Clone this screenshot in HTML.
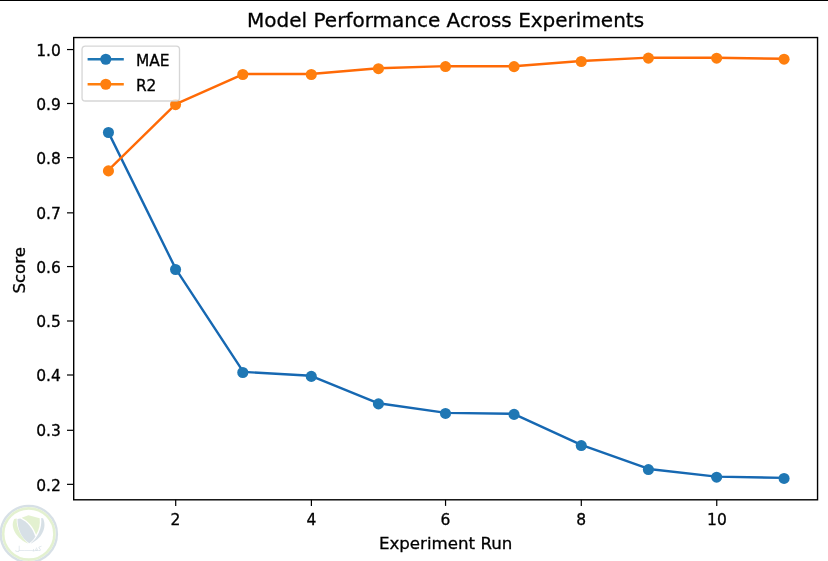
<!DOCTYPE html>
<html><head><meta charset="utf-8"><title>Model Performance Across Experiments</title>
<style>
html,body{margin:0;padding:0;background:#fff;}
body{width:828px;height:561px;overflow:hidden;position:relative;}
svg{position:absolute;left:0;top:0;display:block;will-change:transform;}
text{font-family:'DejaVu Sans','Liberation Sans',sans-serif;fill:#000;stroke:#000;stroke-width:0.3px;}
</style></head><body>
<svg width="828" height="561" viewBox="0 0 828 561">
<rect x="0" y="0" width="828" height="561" fill="#fff"/>
<rect x="0" y="0" width="828" height="1" fill="#000"/>
<g id="series">
<polyline points="108.17,131.90 175.75,268.90 243.32,371.90 310.90,375.80 378.47,403.30 446.05,412.85 513.62,413.80 581.20,444.95 648.77,468.95 716.35,476.60 783.92,477.85" fill="none" stroke="#1668b2" stroke-width="2.4" stroke-linejoin="round" stroke-linecap="butt"/>
<circle cx="108.45" cy="132.50" r="5.55" fill="#1f77b4"/>
<circle cx="175.55" cy="269.50" r="5.55" fill="#1f77b4"/>
<circle cx="242.80" cy="372.50" r="5.55" fill="#1f77b4"/>
<circle cx="311.30" cy="376.40" r="5.55" fill="#1f77b4"/>
<circle cx="378.45" cy="403.90" r="5.55" fill="#1f77b4"/>
<circle cx="445.50" cy="413.45" r="5.55" fill="#1f77b4"/>
<circle cx="514.05" cy="414.40" r="5.55" fill="#1f77b4"/>
<circle cx="581.25" cy="445.55" r="5.55" fill="#1f77b4"/>
<circle cx="648.40" cy="469.55" r="5.55" fill="#1f77b4"/>
<circle cx="716.65" cy="477.20" r="5.55" fill="#1f77b4"/>
<circle cx="784.05" cy="478.45" r="5.55" fill="#1f77b4"/>
<polyline points="108.17,170.45 175.75,104.15 243.32,74.05 310.90,74.05 378.47,68.25 446.05,66.10 513.62,66.20 581.20,61.05 648.77,57.65 716.35,57.75 783.92,58.75" fill="none" stroke="#ff6a06" stroke-width="2.4" stroke-linejoin="round" stroke-linecap="butt"/>
<circle cx="108.45" cy="170.90" r="5.55" fill="#ff7f0e"/>
<circle cx="175.55" cy="104.60" r="5.55" fill="#ff7f0e"/>
<circle cx="242.80" cy="74.50" r="5.55" fill="#ff7f0e"/>
<circle cx="311.30" cy="74.50" r="5.55" fill="#ff7f0e"/>
<circle cx="378.45" cy="68.70" r="5.55" fill="#ff7f0e"/>
<circle cx="445.50" cy="66.55" r="5.55" fill="#ff7f0e"/>
<circle cx="514.05" cy="66.65" r="5.55" fill="#ff7f0e"/>
<circle cx="581.25" cy="61.50" r="5.55" fill="#ff7f0e"/>
<circle cx="648.40" cy="58.10" r="5.55" fill="#ff7f0e"/>
<circle cx="716.65" cy="58.20" r="5.55" fill="#ff7f0e"/>
<circle cx="784.05" cy="59.20" r="5.55" fill="#ff7f0e"/>
</g>
<rect x="73.7" y="37.55" width="743.85" height="462.25" fill="none" stroke="#000" stroke-width="1.4"/>
<g stroke="#000" stroke-width="1.2">
<line x1="175.70" y1="499.8" x2="175.70" y2="505.90"/>
<line x1="311.40" y1="499.8" x2="311.40" y2="505.90"/>
<line x1="445.55" y1="499.8" x2="445.55" y2="505.90"/>
<line x1="581.30" y1="499.8" x2="581.30" y2="505.90"/>
<line x1="716.75" y1="499.8" x2="716.75" y2="505.90"/>
<line x1="73.7" y1="484.35" x2="67.0" y2="484.35"/>
<line x1="73.7" y1="430.30" x2="67.0" y2="430.30"/>
<line x1="73.7" y1="375.00" x2="67.0" y2="375.00"/>
<line x1="73.7" y1="321.00" x2="67.0" y2="321.00"/>
<line x1="73.7" y1="266.55" x2="67.0" y2="266.55"/>
<line x1="73.7" y1="212.85" x2="67.0" y2="212.85"/>
<line x1="73.7" y1="157.65" x2="67.0" y2="157.65"/>
<line x1="73.7" y1="103.50" x2="67.0" y2="103.50"/>
<line x1="73.7" y1="49.55" x2="67.0" y2="49.55"/>
</g>
<g font-size="15.5px">
<text x="175.52" y="524.6" text-anchor="middle">2</text>
<text x="311.35" y="524.6" text-anchor="middle">4</text>
<text x="445.45" y="524.6" text-anchor="middle">6</text>
<text x="581.17" y="524.6" text-anchor="middle">8</text>
<text x="716.95" y="524.6" text-anchor="middle">10</text>
<text x="60.9" y="490.65" text-anchor="end">0.2</text>
<text x="60.9" y="436.30" text-anchor="end">0.3</text>
<text x="60.9" y="381.30" text-anchor="end">0.4</text>
<text x="60.9" y="327.30" text-anchor="end">0.5</text>
<text x="60.9" y="273.25" text-anchor="end">0.6</text>
<text x="60.9" y="219.15" text-anchor="end">0.7</text>
<text x="60.9" y="163.75" text-anchor="end">0.8</text>
<text x="60.9" y="109.50" text-anchor="end">0.9</text>
<text x="60.9" y="55.85" text-anchor="end">1.0</text>
</g>
<text x="445.62" y="548.6" font-size="16.67px" text-anchor="middle">Experiment Run</text>
<text transform="translate(25.1,270.28) rotate(-90)" font-size="16.67px" text-anchor="middle">Score</text>
<text x="445.62" y="27.35" font-size="20px" text-anchor="middle">Model Performance Across Experiments</text>
<g id="legend">
<rect x="82.05" y="46.05" width="97.45" height="54.95" rx="3.3" ry="3.3" fill="#fff" fill-opacity="0.8" stroke="#ccc" stroke-opacity="0.8" stroke-width="1.33"/>
<line x1="87.6" y1="59.25" x2="123.8" y2="59.25" stroke="#1f77b4" stroke-width="2.5"/>
<circle cx="105.8" cy="59.25" r="5.55" fill="#1f77b4"/>
<text x="135.9" y="65.75" font-size="15.4px">MAE</text>
<line x1="87.6" y1="84.25" x2="123.8" y2="84.25" stroke="#ff7f0e" stroke-width="2.5"/>
<circle cx="105.8" cy="84.25" r="5.55" fill="#ff7f0e"/>
<text x="135.9" y="90.75" font-size="15.4px">R2</text>
</g>
<g id="watermark" opacity="0.24">
<circle cx="28.8" cy="534" r="28.1" fill="none" stroke="#5a7f9a" stroke-width="2.4"/>
<circle cx="28.8" cy="534" r="25.6" fill="none" stroke="#8dc63f" stroke-width="2.6"/>
<path d="M14.2,519.0 C9.5,527.5 17,539 28.6,543.8 C21.5,537.5 16.2,528.5 16.7,518.6 Z" fill="#8dc63f"/>
<path d="M17.5,519.0 C17.2,529.5 21.8,538.5 29.3,543.3 C32.6,540.8 34.6,538.8 35.3,536.6 C32.8,528.5 27.5,521.8 20.3,518.5 Z" fill="#5a7f9a"/>
<path d="M21.6,517.7 L28.5,515.2 L39.7,518.3 C40.3,524.5 39.2,530 36.1,534.8 C33.6,527.5 28.5,521 21.6,517.7 Z" fill="#8dc63f"/>
<path d="M41.2,518.0 L43.0,518.3 C47.5,528 41.5,539 30.0,544.0 C37.5,538 42.2,528.5 41.2,518.0 Z" fill="#5a7f9a"/>
<text x="28.3" y="550.5" font-size="7px" text-anchor="middle" direction="rtl" style="fill:#5a7f9a;stroke:none;font-family:'DejaVu Sans','Noto Sans CJK SC',sans-serif">كفيــــــل</text>
</g>
</svg></body></html>
